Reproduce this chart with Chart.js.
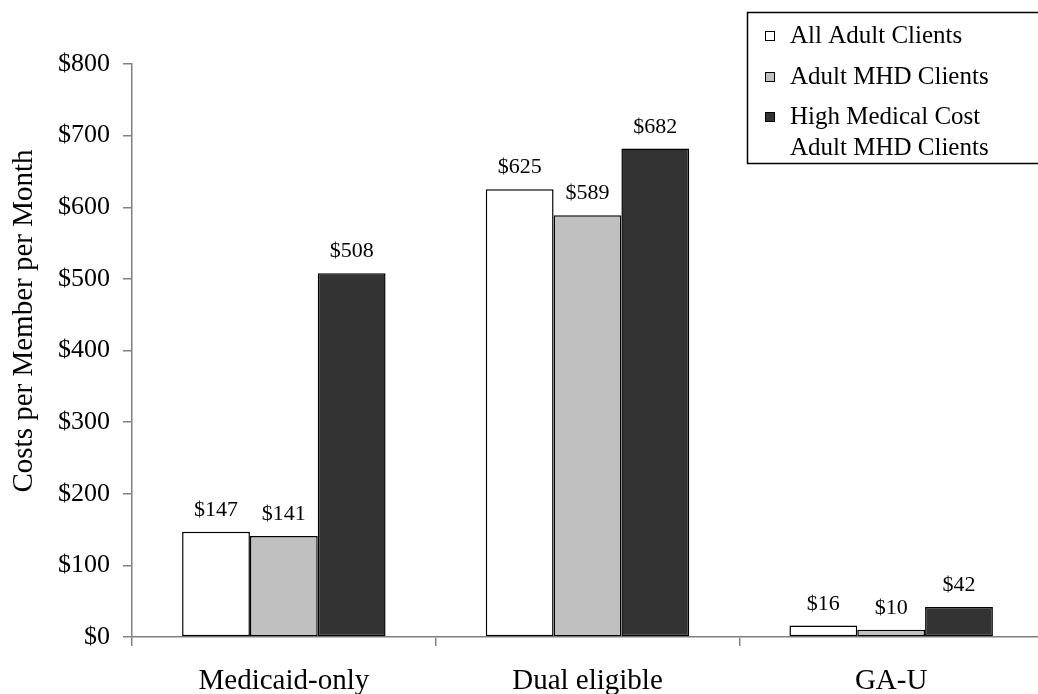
<!DOCTYPE html>
<html>
<head>
<meta charset="utf-8">
<script src="https://cdn.jsdelivr.net/npm/chart.js@4.4.1/dist/chart.umd.min.js"></script>
<style>
  html, body { margin: 0; padding: 0; background: #fff; overflow: hidden; }
  #wrap { position: relative; width: 1044px; height: 694px; }
</style>
</head>
<body>
<div id="wrap"><canvas id="c" width="1044" height="694"></canvas></div>
<script>
// Monthly cost per member, by eligibility group
const categories = ['Medicaid-only', 'Dual eligible', 'GA-U'];
const allAdultClients = [147, 625, 16];
const adultMhdClients = [141, 589, 10];
const highCostMhdClients = [508, 682, 42];
const seriesNames = ['All Adult Clients', 'Adult MHD Clients', ['High Medical Cost', 'Adult MHD Clients']];
const yTicks = [0, 100, 200, 300, 400, 500, 600, 700, 800];
const yAxisTitle = 'Costs per Member per Month';

const SERIF = '"Liberation Serif", "Times New Roman", serif';
const fills = ['#ffffff', '#c0c0c0', '#333333'];
const AXIS = '#808080';

const money = v => '$' + v;

// value labels above each bar
const barLabels = {
  id: 'barLabels',
  afterDatasetsDraw(chart) {
    const ctx = chart.ctx;
    ctx.save();
    ctx.font = '22px ' + SERIF;
    ctx.fillStyle = '#000';
    ctx.textAlign = 'center';
    ctx.textBaseline = 'alphabetic';
    chart.data.datasets.forEach((ds, i) => {
      chart.getDatasetMeta(i).data.forEach((bar, j) => {
        ctx.fillText(money(ds.data[j]), bar.x, bar.y - 16);
      });
    });
    ctx.restore();
  }
};

// rotated y-axis title
const yTitle = {
  id: 'yTitle',
  afterDraw(chart) {
    const ctx = chart.ctx;
    ctx.save();
    ctx.translate(24, 321);
    ctx.rotate(-Math.PI / 2);
    ctx.font = '29px ' + SERIF;
    ctx.fillStyle = '#000';
    ctx.textAlign = 'center';
    ctx.textBaseline = 'middle';
    ctx.fillText(yAxisTitle, 0, 0);
    ctx.restore();
  }
};

// boxed legend in the upper right corner
const boxLegend = {
  id: 'boxLegend',
  afterDraw(chart) {
    const ctx = chart.ctx;
    const left = 747, top = 12, bottom = 163;
    ctx.save();
    ctx.fillStyle = '#fff';
    ctx.fillRect(left, top, chart.width - left + 10, bottom - top);
    ctx.strokeStyle = '#000';
    ctx.lineWidth = 1.5;
    ctx.strokeRect(left + 0.5, top + 0.5, chart.width - left + 10, bottom - top);
    ctx.font = '25px ' + SERIF;
    ctx.textBaseline = 'middle';
    ctx.textAlign = 'left';
    const rows = [36, 77, 117];
    chart.data.datasets.forEach((ds, i) => {
      const y = rows[i];
      ctx.fillStyle = fills[i];
      ctx.fillRect(765, y - 5, 10, 10);
      ctx.strokeStyle = '#000';
      ctx.lineWidth = 1;
      ctx.strokeRect(765.5, y - 4.5, 9, 9);
      ctx.fillStyle = '#000';
      const lines = Array.isArray(seriesNames[i]) ? seriesNames[i] : [seriesNames[i]];
      lines.forEach((t, k) => ctx.fillText(t, 790, y + k * 31));
    });
    ctx.restore();
  }
};

new Chart(document.getElementById('c'), {
  type: 'bar',
  data: {
    labels: categories,
    datasets: [allAdultClients, adultMhdClients, highCostMhdClients].map((d, i) => ({
      label: Array.isArray(seriesNames[i]) ? seriesNames[i].join(' ') : seriesNames[i],
      data: d,
      backgroundColor: fills[i],
      borderColor: '#000',
      borderWidth: 1.5,
      borderSkipped: false,
      categoryPercentage: 0.67,
      barPercentage: 1.0
    }))
  },
  options: {
    responsive: false,
    animation: false,
    layout: { padding: { top: 64, left: 0, right: 1, bottom: 0 } },
    plugins: { legend: { display: false }, tooltip: { enabled: false } },
    scales: {
      x: {
        grid: { offset: true, drawOnChartArea: false, drawTicks: true, tickLength: 9, color: AXIS, tickColor: AXIS, lineWidth: 1.5 },
        border: { display: true, color: AXIS, width: 1.5 },
        ticks: { color: '#000', font: { family: SERIF, size: 29 }, padding: 18, maxRotation: 0 },
        afterFit(s) { s.height = 694 - 637; }
      },
      y: {
        min: 0, max: 800,
        afterBuildTicks(s) { s.ticks = yTicks.map(v => ({ value: v })); },
        grid: { drawOnChartArea: false, drawTicks: true, tickLength: 9, color: AXIS, tickColor: AXIS, lineWidth: 1.5 },
        border: { display: true, color: AXIS, width: 1.5 },
        ticks: { color: '#000', font: { family: SERIF, size: 26 }, padding: 13, callback: v => money(v) },
        title: { display: false },
        afterFit(s) { s.width = 132; }
      }
    }
  },
  plugins: [barLabels, yTitle, boxLegend]
});
</script>
</body>
</html>
